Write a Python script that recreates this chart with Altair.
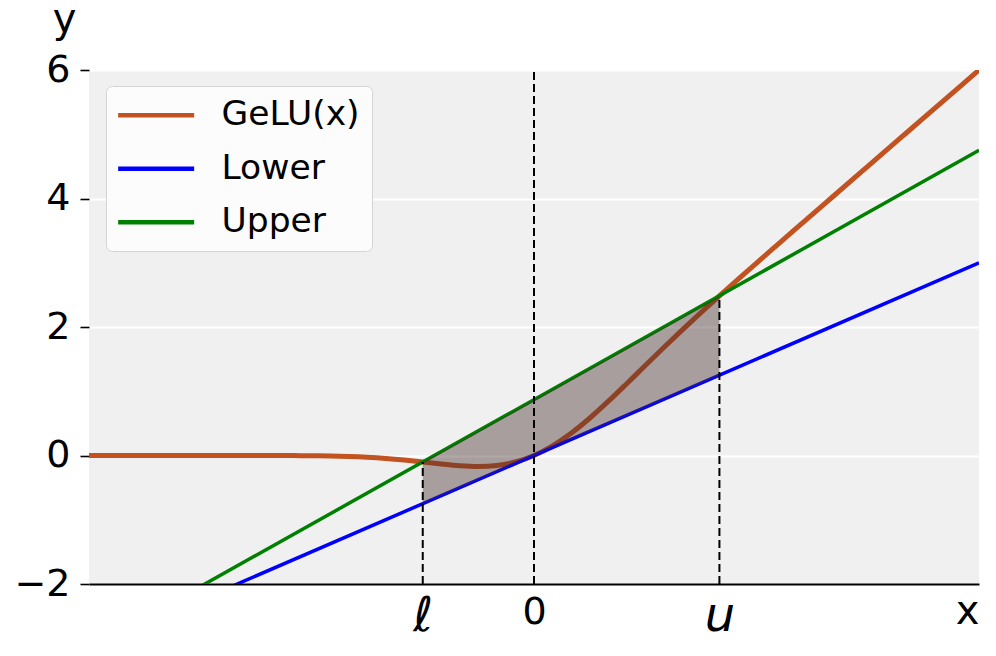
import altair as alt
import pandas as pd

# ---- data ----
series_names = ["GeLU(x)", "Lower", "Upper"]
series_colors = ["#c2521f", "#0000ff", "#008000"]
series_widths = [5.0, 3.5, 3.5]

gelu_x = [-6.0, -5.5, -5.0, -4.5, -4.0, -3.75, -3.5, -3.25, -3.0, -2.75, -2.5,
          -2.25, -2.0, -1.75, -1.5, -1.25, -1.0, -0.75, -0.5, -0.25, 0.0, 0.25,
          0.5, 0.75, 1.0, 1.25, 1.5, 1.75, 2.0, 2.25, 2.5, 2.75, 3.0, 3.25, 3.5,
          3.75, 4.0, 4.5, 5.0, 5.5, 6.0]
gelu_y = [0.0, 0.0, 0.0, -0.00002, -0.0001, -0.0003, -0.0008, -0.0019, -0.0040,
          -0.0082, -0.0155, -0.0275, -0.0455, -0.0701, -0.1002, -0.1321, -0.1587,
          -0.1700, -0.1543, -0.1003, 0.0, 0.1497, 0.3457, 0.5800, 0.8413, 1.1179,
          1.3998, 1.6799, 1.9545, 2.2225, 2.4845, 2.7418, 2.9960, 3.2481, 3.4992,
          3.7497, 3.9999, 4.5, 5.0, 5.5, 6.0]

lower_x = [-6.0, 6.0]
lower_y = [-3.0, 3.0]
upper_x = [-6.0, 6.0]
upper_y = [-3.01, 4.75]

band_x = [-1.5, 2.5]
band_top = [-0.10, 2.48]
band_bottom = [-0.75, 1.25]

rule_x = [-1.5, 0.0, 2.5]
rule_bottom = [-2.0, -2.0, -2.0]
rule_top = [-0.10, 6.0, 2.48]

x_tick_values = [-1.5, 0.0, 2.5]
x_tick_labels = ["ℓ", "0", "u"]
y_tick_values = [-2, 0, 2, 4, 6]

# ---- tables ----
lines_df = pd.concat([
    pd.DataFrame({"x": gelu_x, "y": gelu_y, "series": series_names[0], "k": 0, "w": series_widths[0]}),
    pd.DataFrame({"x": lower_x, "y": lower_y, "series": series_names[1], "k": 1, "w": series_widths[1]}),
    pd.DataFrame({"x": upper_x, "y": upper_y, "series": series_names[2], "k": 2, "w": series_widths[2]}),
], ignore_index=True)
band_df = pd.DataFrame({"x": band_x, "top": band_top, "bottom": band_bottom})
rule_df = pd.DataFrame({"x": rule_x, "y": rule_bottom, "y2": rule_top})

label_expr = " : ".join(
    [f"datum.value == {v} ? '{t}'" for v, t in zip(x_tick_values, x_tick_labels)]
) + " : ''"

xscale = alt.Scale(domain=[-6, 6], nice=False, zero=False)
yscale = alt.Scale(domain=[-2, 6], nice=False, zero=False)

x_axis = alt.Axis(
    values=x_tick_values, labelExpr=label_expr, ticks=False, tickSize=0,
    grid=False, domainColor="black", domainWidth=2,
    labelFontSize={"condition": {"test": "datum.value == 0", "value": 38}, "value": 48},
    labelFontStyle={"condition": {"test": "datum.value == 0", "value": "normal"}, "value": "italic"},
    labelPadding={"condition": {"test": "datum.value == 0", "value": 39}, "value": 46},
    labelBaseline="alphabetic", labelColor="black", labelFlush=False,
    title="x", titleFontSize=40, titleFontWeight="normal", titleColor="black",
    titleX=890, titleY=39, titleAlign="right", titleBaseline="alphabetic",
    titleAnchor="end",
)
y_axis = alt.Axis(
    values=y_tick_values, format="d", labelExpr="replace(datum.label, '-', '−')",
    domain=False, ticks=True, tickSize=9, tickWidth=1.6, tickColor="black",
    labelFontSize=38, labelPadding=10, labelColor="black",
    grid=True, gridColor="white", gridWidth=2,
    title="y", titleAngle=0, titleFontSize=40, titleFontWeight="normal",
    titleColor="black", titleX=-25, titleY=-39, titleAlign="center",
    titleBaseline="alphabetic",
)

legend = alt.Legend(
    title=None, orient="none", legendX=17, legendY=16,
    symbolType="M-1.8,0H6.2", symbolSize=361, symbolStrokeWidth=4.5,
    labelFontSize=34.5, labelColor="black", labelFont="DejaVu Sans",
    labelOffset=69, rowPadding=18.5, padding=12, fillColor="#fcfcfc",
    strokeColor="#d4d4d4", cornerRadius=6,
)

lines = alt.Chart(lines_df).mark_line(clip=True, interpolate="monotone").encode(
    x=alt.X("x:Q", scale=xscale, axis=x_axis),
    y=alt.Y("y:Q", scale=yscale, axis=y_axis),
    color=alt.Color("series:N", scale=alt.Scale(domain=series_names, range=series_colors),
                    legend=legend),
    strokeWidth=alt.StrokeWidth("w:Q", scale=None, legend=None),
    order="k:Q",
)

band = alt.Chart(band_df).mark_area(color="#452d2d", opacity=0.42).encode(
    x=alt.X("x:Q", scale=xscale),
    y=alt.Y("top:Q", scale=yscale),
    y2="bottom:Q",
)

rules = alt.Chart(rule_df).mark_rule(color="black", strokeWidth=2, strokeDash=[8, 4]).encode(
    x=alt.X("x:Q", scale=xscale),
    y=alt.Y("y:Q", scale=yscale),
    y2="y2:Q",
)

chart = alt.layer(lines, band, rules).properties(
    width=890, height=514,
    autosize=alt.AutoSizeParams(type="none"),
    padding={"left": 81, "top": 62, "right": 6, "bottom": 62},
).configure(font="DejaVu Sans").configure_view(fill="#f0f0f0", stroke=None)

chart.save("out.html", embed_options={"renderer": "svg", "actions": False})
